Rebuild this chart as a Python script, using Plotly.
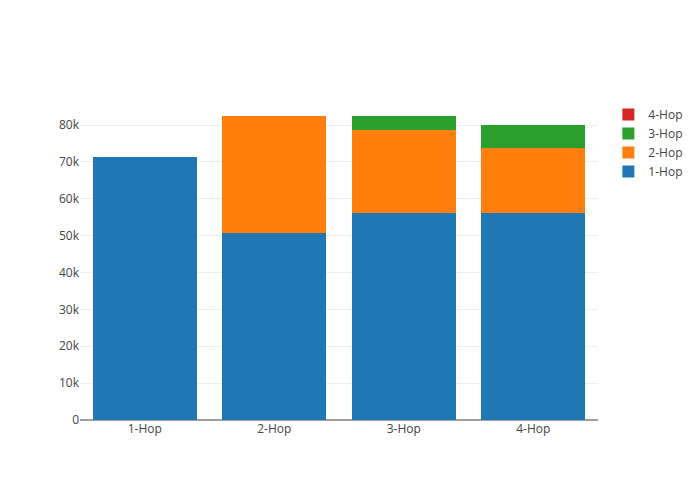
import plotly.graph_objects as go

categories = ["1-Hop", "2-Hop", "3-Hop", "4-Hop"]
series_names = ["1-Hop", "2-Hop", "3-Hop", "4-Hop"]
hop1 = [71400, 50600, 56050, 56050]
hop2 = [0, 31800, 22600, 17700]
hop3 = [0, 0, 3800, 6300]
hop4 = [0, 0, 0, 0]
colors = ["#1f77b4", "#ff7f0e", "#2ca02c", "#d62728"]

fig = go.Figure()
for name, vals, c in zip(series_names, [hop1, hop2, hop3, hop4], colors):
    fig.add_trace(go.Bar(x=categories, y=vals, name=name, marker_color=c))

fig.update_layout(
    template="none",
    barmode="stack",
    width=700,
    height=500,
    font=dict(family="Open Sans", color="#444"),
    paper_bgcolor="white",
    plot_bgcolor="white",
    yaxis=dict(zerolinecolor="#a0a0a0", zerolinewidth=2, gridcolor="#eee", ticks=""),
    xaxis=dict(ticks=""),
)
fig.write_html(
    "out.html",
    config={"displayModeBar": False},
    post_script="document.body.style.margin='0px';",
)
